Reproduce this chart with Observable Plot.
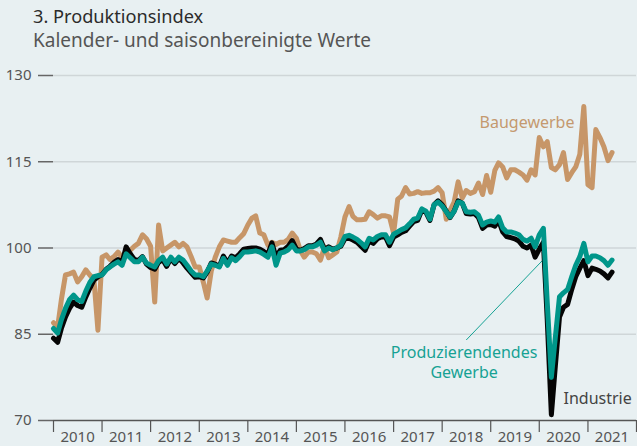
<!DOCTYPE html>
<html>
<head>
<meta charset="utf-8">
<script src="https://cdn.jsdelivr.net/npm/d3@7"></script>
<script src="https://cdn.jsdelivr.net/npm/@observablehq/plot@0.6"></script>
<style>
  html, body { margin: 0; padding: 0; background: #e8f0f2; }
  #wrap { width: 637px; height: 446px; background: #e8f0f2; font-family: "Noto Sans", sans-serif; }
  #head { height: 60px; box-sizing: border-box; padding-left: 33px; padding-top: 4px; }
  #title { font-size: 18.2px; color: #2b2b2b; line-height: 24px; font-weight: 400; }
  #subtitle { font-size: 19px; color: #555; line-height: 25px; margin-top: 0px; font-weight: 400; }
</style>
</head>
<body>
<div id="wrap">
  <div id="head">
    <div id="title">3. Produktionsindex</div>
    <div id="subtitle">Kalender- und saisonbereinigte Werte</div>
  </div>
  <div id="chart"></div>
</div>
<script>
// Monthly values, January 2010 to July 2021
const startMonth = "2010-01-01";

const produzierendes = [
  86, 85.2, 87.5, 89.5, 91, 91.8, 91, 90.7, 92.5, 94, 95, 95.2,
  95.3, 96.2, 96.7, 97.2, 97.6, 97, 99, 98.3, 97.6, 97.6, 98.4, 97.4,
  97, 96.7, 97.8, 98.4, 97.2, 98.4, 97.6, 98.4, 97.9, 97, 96, 95.3,
  95.3, 95, 96, 97.2, 97, 96.7, 98.2, 97, 98.3, 97.8, 98.5, 99.3,
  99.3, 99.4, 99.5, 99.3, 98.9, 98.4, 100.2, 97, 99.1, 99.3, 99.7, 100.5,
  99.5, 99.5, 99.7, 100.2, 100.2, 100.5, 101, 99.5, 100, 99.7, 100, 100.5,
  102, 102.2, 101.9, 101.5, 100.9, 100.2, 101.7, 101.4, 102, 102.3, 102.3, 101,
  102.4, 102.8, 103.2, 103.5, 104.2, 105, 105.2, 106.8, 106.4, 105, 107.5, 108,
  107.3, 106.3, 105.4, 106.4, 108, 107.8, 106.3, 106.2, 106.3, 105.7, 104, 104.5,
  104.7, 104.5, 105.4, 103.5, 102.8, 102.8, 102.6, 102.3, 101.5, 101.2, 101.7, 100.2,
  102.3, 103.4, 90.5, 77.5, 84.5, 91.5, 92.2, 92.8, 95, 97, 98.5, 100.8,
  97.6, 98.6, 98.6, 98.3, 97.8, 97, 97.9
];

const industrie = [
  84.3, 83.6, 86, 88, 89.5, 90.6, 90, 89.7, 91.5, 93, 94.4, 95,
  95.4, 96.3, 96.8, 97.5, 98, 97.5, 100.2, 99, 98, 97.8, 98.5, 97.2,
  96.6, 96.3, 97.5, 98, 96.8, 98.2, 97.3, 98.2, 97.4, 96.5, 95.7, 94.9,
  95, 94.8, 95.8, 97.4, 97.2, 96.8, 98.6, 97.4, 98.6, 98.3, 99, 99.8,
  99.9, 100, 100, 99.8, 99.4, 98.9, 100.9, 98.4, 99.6, 99.7, 100.3, 101.3,
  99.8, 99.6, 99.9, 100.4, 100.4, 100.7, 101.5, 99.7, 100.2, 99.8, 100, 100.3,
  101.6, 101.7, 101.4, 101, 100.3, 99.6, 101.2, 100.8, 101.6, 101.9, 101.9, 100.4,
  101.9, 102.3, 102.7, 103, 103.8, 104.6, 104.8, 106.6, 106.2, 104.8, 107.5, 108.2,
  107.5, 106.4, 105.3, 106.4, 108.2, 107.8, 106, 105.9, 106, 105.3, 103.4, 104,
  104.1, 103.8, 104.8, 102.8, 102, 101.8, 101.6, 101.2, 100.3, 100, 100.5, 98.4,
  99.8, 101, 87.5, 71, 79.5, 88, 89.7, 90.2, 92.8, 95, 96.5, 97.8,
  95.2, 96.5, 96.3, 96, 95.5, 94.8, 95.8
];

const baugewerbe = [
  87, 86.2, 91, 95.3, 95.5, 95.8, 94.1, 95, 96.2, 95.3, 94.5, 85.7,
  98.4, 98.8, 98, 98.5, 99.3, 98.3, 99.2, 99.6, 100.3, 100.8, 102.3, 101.6,
  100.3, 90.6, 104, 99.5, 100, 100.5, 101, 100.2, 100.8, 100.2, 98.5, 96.7,
  96.7, 94, 91.3, 96, 98.4, 100.2, 101.4, 101.2, 101, 101, 101.8, 102.5,
  104, 105.2, 105.6, 102.6, 102.3, 100.5, 101, 100.6, 101, 101, 101.5, 102.6,
  101.7, 99.5, 98.4, 99.3, 99.3, 99, 97.9, 100.2, 98.3, 98.8, 99.3, 101.9,
  105.4, 107.2, 105.5, 104.9, 104.9, 105, 106.3, 105.8, 105.2, 105.6, 105.6, 105.4,
  102.6, 108.5, 109, 110.5, 109.4, 109.5, 109.8, 109.5, 109.6, 109.6, 109.9, 110.5,
  109.6, 105, 106.5, 108, 111.5, 108.7, 110, 109.5, 109.8, 111.3, 109.3, 112.6,
  109.7, 113.5, 114.8, 114.1, 112.2, 113.6, 113.6, 113.2, 112.7, 111.8, 113.6, 112.7,
  119.2, 117.6, 118.5, 114, 113.6, 114.5, 116.6, 111.9, 113.1, 114.1, 116.3, 124.6,
  111, 110.5, 120.6, 119.2, 117.6, 115.2, 116.6
];

const yTicks = [70, 85, 100, 115, 130];
const yearLabels = ["2010","2011","2012","2013","2014","2015","2016","2017","2018","2019","2020","2021"];

const seriesNames = ["Baugewerbe", "Industrie", "Produzierendendes Gewerbe"];
const seriesColors = ["#c79668", "#050505", "#00968a"];

// Annotation labels (position in data space)
const labelTexts = ["Baugewerbe", "Produzierendendes\nGewerbe", "Industrie"];
const labelDates = ["2019-10-01", "2018-06-15", "2021-03-15"];
const labelValues = [121.9, 80.2, 74.0];
const labelColors = ["#c4996f", "#16a294", "#444444"];
const connector = {x1: "2018-07-01", y1: 84.0, x2: "2020-02-01", y2: 98.0};

// Build tables
const start = new Date(startMonth);
const rows = [];
[baugewerbe, industrie, produzierendes].forEach((vals, s) => {
  vals.forEach((v, i) => rows.push({series: seriesNames[s], date: d3.utcMonth.offset(start, i), value: v}));
});
const yearBounds = d3.range(0, yearLabels.length + 1).map(k => new Date(Date.UTC(2010 + k, 0, 1)));
const yearMids = yearLabels.map(y => new Date(Date.UTC(+y, 6, 1)));
const labels = labelTexts.map((t, i) => ({text: t, date: new Date(labelDates[i]), value: labelValues[i], color: labelColors[i]}));

const chart = Plot.plot({
  width: 637,
  height: 386,
  marginLeft: 53,
  marginRight: 1,
  marginTop: 15,
  marginBottom: 26,
  style: {background: "transparent", fontFamily: "'Noto Sans', sans-serif", color: "#555", fontSize: "15px"},
  x: {type: "utc", domain: [yearBounds[0], yearBounds[yearBounds.length - 1]]},
  y: {domain: [70, 130]},
  color: {domain: seriesNames, range: seriesColors},
  marks: [
    Plot.ruleY(yTicks.filter(d => d > 70), {stroke: "#cfd6d8", strokeWidth: 1.5}),
    Plot.axisY(yTicks, {tickSize: 15, tickPadding: 7, stroke: "#666", strokeWidth: 1.5, label: null, fontSize: 15, fill: "#555"}),
    Plot.axisX(yearBounds, {tickSize: 12, tickFormat: () => "", stroke: "#555", strokeWidth: 1.2, label: null}),
    Plot.axisX(yearMids, {tickSize: 0, tickPadding: 11, tickFormat: d => yearLabels[d.getUTCFullYear() - 2010], label: null, fontSize: 15, fill: "#555"}),
    Plot.ruleY([70], {stroke: "#555", strokeWidth: 1.5}),
    Plot.link([connector], {x1: d => new Date(d.x1), y1: "y1", x2: d => new Date(d.x2), y2: "y2", stroke: "#16a294", strokeWidth: 1}),
    Plot.line(rows, {x: "date", y: "value", z: "series", stroke: "series", strokeWidth: 5, strokeLinejoin: "round", strokeLinecap: "round", curve: "linear"}),
    Plot.text(labels, {x: "date", y: "value", text: "text", fill: "color", fontSize: 16, lineHeight: 1.25, textAnchor: "middle"})
  ]
});
document.getElementById("chart").appendChild(chart);
</script>
</body>
</html>
